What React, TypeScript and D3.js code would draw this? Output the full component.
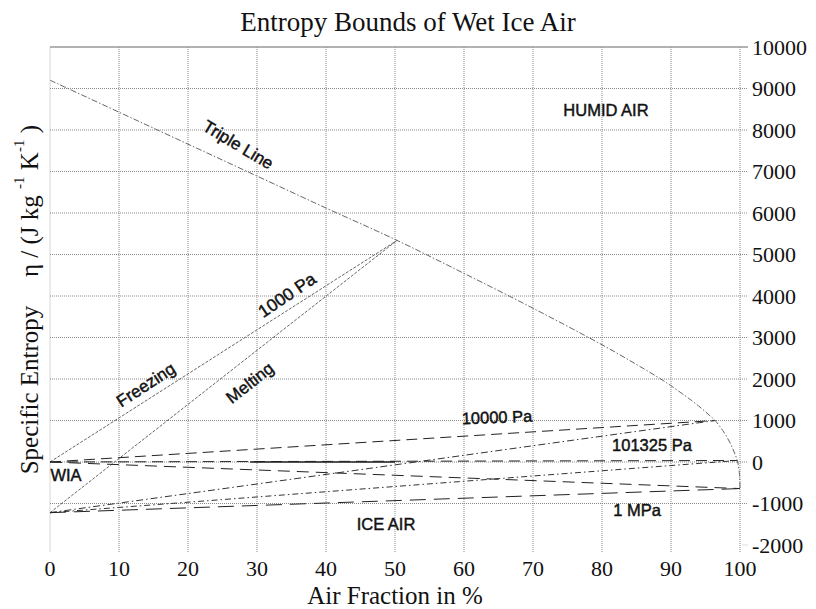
import React from "react";
import * as d3 from "d3";

const W = 816;
const H = 609;

// Axis ticks
const xTicks = [0, 10, 20, 30, 40, 50, 60, 70, 80, 90, 100];
const yTicks = [-2000, -1000, 0, 1000, 2000, 3000, 4000, 5000, 6000, 7000, 8000, 9000, 10000];

// Triple line (air fraction %, entropy J/kg/K)
const tripleX = [0, 10, 20, 30, 40, 50.3, 60, 70, 80, 85, 88.8, 90, 92, 93, 94, 95, 96, 96.4, 97.5, 98.5, 99.2, 99.6, 99.9, 100];
const tripleY = [9200, 8430, 7660, 6890, 6120, 5340, 4545, 3705, 2825, 2350, 1970, 1838, 1602, 1480, 1350, 1210, 1060, 1000, 760, 480, 220, 36, -250, -640];

// Freezing / melting lines per pressure: start and end points
const isoNames = ["1000 Pa freezing", "1000 Pa melting", "10000 Pa freezing", "10000 Pa melting", "101325 Pa freezing", "101325 Pa melting", "1 MPa freezing", "1 MPa melting"];
const isoX0 = [0, 0, 0, 0, 0, 0, 0, 0];
const isoY0 = [0, -1221, 0, -1221, 0, -1221, 0, -1221];
const isoX1 = [50.3, 50.3, 96.4, 96.4, 99.6, 99.6, 100, 100];
const isoY1 = [5340, 5340, 1000, 1000, 36, 36, -640, -640];
const isoDash = ["3 1.5", "3 1.5", "11 6", "7 3 1.5 3", "11 6", "6 3 1.5 3", "12 7", "16 8"];
const isoColor = ["#666", "#666", "#222", "#333", "#222", "#333", "#222", "#222"];

// solid segment on the zero level
const segX = [29, 50];
const segY = [0, 0];

// Region / curve labels
const labelText = ["HUMID AIR", "Triple Line", "1000 Pa", "Freezing", "Melting", "WIA", "10000 Pa", "101325 Pa", "1 MPa", "ICE AIR"];
const labelPx = [606, 238, 287, 146, 250, 66, 497, 652, 637, 386];
const labelPy = [110, 145, 295, 385, 383, 475, 417, 445, 510, 524];
const labelRot = [0, 31, -34, -33, -38, 0, -2, 0, 0, 0];
const labelSize = [16.5, 17, 17.5, 17, 17, 16.5, 16.5, 16.5, 16.5, 16.5];

export default function App() {
  const x = d3.scaleLinear().domain([0, 100]).range([50, 740]);
  const y = d3.scaleLinear().domain([-2000, 10000]).range([545, 47]);
  const line = d3
    .line<[number, number]>()
    .x((d) => x(d[0]))
    .y((d) => y(d[1]));
  const triple: [number, number][] = tripleX.map((v, i) => [v, tripleY[i]]);
  const tripleLine = d3
    .line<[number, number]>()
    .x((d) => x(d[0]))
    .y((d) => y(d[1]))
    .curve(d3.curveCatmullRom.alpha(0.5));

  const serif = "'Liberation Serif', 'Times New Roman', serif";
  const sans = "'Liberation Sans', Arial, sans-serif";

  return (
    <svg width={W} height={H} style={{ display: "block", position: "absolute", left: 0, top: 0, background: "#fff" }}>
      <rect x={0} y={0} width={W} height={H} fill="#fff" />
      {/* vertical grid */}
      {xTicks.map((t) => (
        <line key={"vx" + t} x1={x(t)} x2={x(t)} y1={y(10000)} y2={552} stroke="#8a8a8a" strokeWidth={1} strokeDasharray={t === 0 ? "" : "1 1"} strokeOpacity={t === 0 ? 0.35 : 1} />
      ))}
      {/* horizontal grid */}
      {yTicks.filter((t) => t > -2000).map((t) => (
        <line key={"hy" + t} x1={x(0)} x2={748} y1={y(t)} y2={y(t)} stroke={t === 10000 ? "#999" : "#8a8a8a"} strokeWidth={t === 10000 ? 1.5 : 1} strokeDasharray={t === 10000 ? "" : "1 1"} />
      ))}
      <line x1={742} x2={748} y1={y(-2000)} y2={y(-2000)} stroke="#ddd" />

      {/* iso-pressure lines */}
      {isoNames.map((n, i) => (
        <path
          key={n}
          d={line([[isoX0[i], isoY0[i]], [isoX1[i], isoY1[i]]]) || ""}
          fill="none"
          stroke={isoColor[i]}
          strokeWidth={1}
          strokeDasharray={isoDash[i]}
        />
      ))}
      <path d={line(segX.map((v, i) => [v, segY[i]] as [number, number])) || ""} stroke="#222" strokeWidth={1.3} fill="none" />

      {/* triple line */}
      <path d={tripleLine(triple) || ""} fill="none" stroke="#666" strokeWidth={1} strokeDasharray="6 2 1.5 2" />

      {/* labels */}
      {labelText.map((t, i) => (
        <text
          key={t}
          x={labelPx[i]}
          y={labelPy[i]}
          textAnchor="middle"
          dominantBaseline="central"
          transform={`rotate(${labelRot[i]} ${labelPx[i]} ${labelPy[i]})`}
          fontFamily={sans}
          fontSize={labelSize[i]}
          fill="#111"
          stroke="#111"
          strokeWidth={0.45}
        >
          {t}
        </text>
      ))}

      {/* x tick labels */}
      {xTicks.map((t) => (
        <text key={"xt" + t} x={x(t)} y={568} textAnchor="middle" dominantBaseline="central" fontFamily={serif} fontSize={22} fill="#111">
          {t}
        </text>
      ))}
      {/* y tick labels */}
      {yTicks.map((t) => (
        <text key={"yt" + t} x={752} y={y(t)} dominantBaseline="central" fontFamily={serif} fontSize={22} fill="#111">
          {t}
        </text>
      ))}

      {/* title */}
      <text x={408} y={22} textAnchor="middle" dominantBaseline="central" fontFamily={serif} fontSize={27} fill="#111">
        Entropy Bounds of Wet Ice Air
      </text>
      {/* x label */}
      <text x={395} y={595} textAnchor="middle" dominantBaseline="central" fontFamily={serif} fontSize={25} fill="#111">
        Air Fraction in %
      </text>
      {/* y label */}
      <text transform="translate(29,390) rotate(-90)" textAnchor="middle" dominantBaseline="central" fontFamily={serif} fontSize={25} fill="#111">
        Specific Entropy
      </text>
      <text transform="translate(29,201) rotate(-90)" textAnchor="middle" dominantBaseline="central" fontFamily={serif} fontSize={25} fill="#111">
        <tspan>η / (J kg </tspan>
        <tspan fontSize={15} dy={-10}>-1</tspan>
        <tspan dy={10}> K</tspan>
        <tspan fontSize={15} dy={-10}>-1</tspan>
        <tspan dy={10}> )</tspan>
      </text>
    </svg>
  );
}
